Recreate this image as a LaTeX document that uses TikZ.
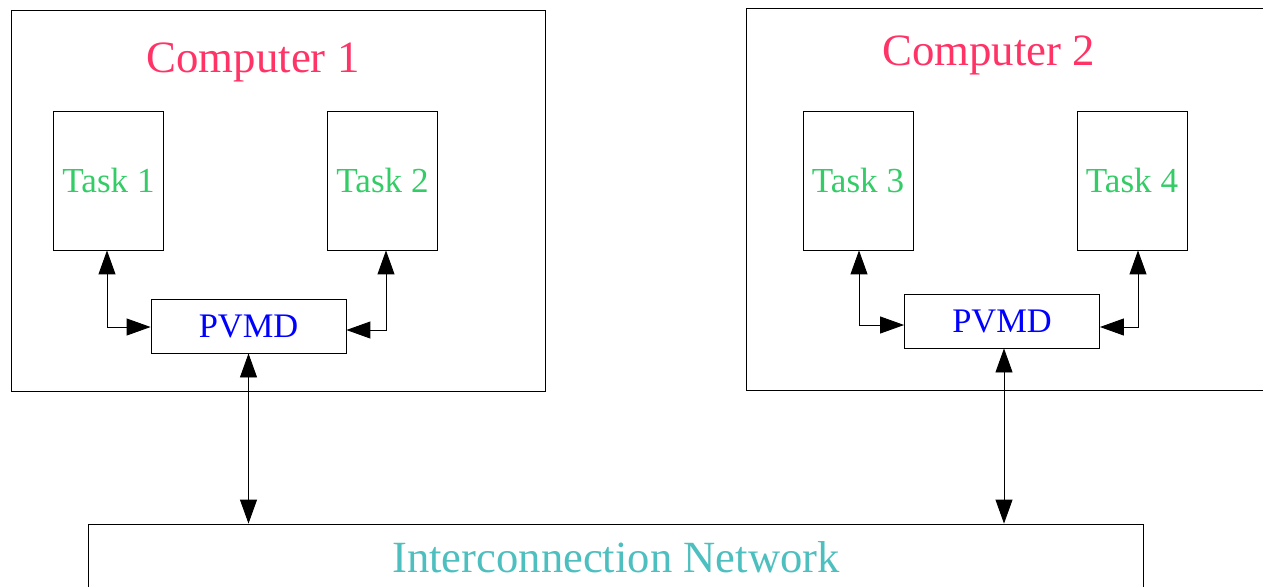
\documentclass[tikz,border=0pt]{standalone}
\usepackage{fontspec}
\setmainfont{Liberation Serif}
\usetikzlibrary{arrows.meta,positioning}
\definecolor{comp}{HTML}{FF3366}
\definecolor{task}{HTML}{33CC66}
\definecolor{daemon}{HTML}{0000FF}
\definecolor{netw}{HTML}{4DBFBF}
\tikzstyle{box}=[draw, line width=0.5pt, inner sep=0pt]
\tikzstyle{taskbox}=[box, minimum width=2.2cm, minimum height=2.78cm, text=task, font=\fontsize{20}{24}\selectfont]
\tikzstyle{pvmd}=[box, minimum width=3.9cm, minimum height=1.08cm, text=daemon, font=\fontsize{19.6}{23}\selectfont]
\tikzstyle{title}=[text=comp, font=\fontsize{25.5}{30}\selectfont]
\tikzstyle{link}=[line width=0.5pt, {Triangle[length=0.48cm,width=0.34cm]}-{Triangle[length=0.48cm,width=0.34cm]}]

\begin{document}
\begin{tikzpicture}[x=0.02cm, y=-0.02cm]
	\clip (0,0) rectangle (1263,586);
	% the two machines
	\node[box, minimum width=10.68cm, minimum height=7.62cm] (c1) at (278,200.5) {};
	\node[box, minimum width=10.68cm, minimum height=7.64cm] (c2) at (1013,199) {};
	\node[title] (c1t) at (253,62) {Computer 1};
	\node[title] (c2t) at (988.5,55) {Computer 2};
	% tasks and daemons
	\node[taskbox] (t1) at (108.5,180.5) {\raisebox{-0.07cm}{Task 1}};
	\node[taskbox] (t2) at (382.5,180.5) {\raisebox{-0.07cm}{Task 2}};
	\node[taskbox] (t3) at (858,180.5) {\raisebox{-0.07cm}{Task 3}};
	\node[taskbox] (t4) at (1132,180.5) {\raisebox{-0.07cm}{Task 4}};
	\node[pvmd] (p1) at (248.5,326) {PVMD};
	\node[pvmd] (p2) at (1002,321) {PVMD};
	% network
	\node[box, minimum width=21.12cm, minimum height=1.32cm, text=netw, font=\fontsize{25.4}{30}\selectfont] (net) at (616,557) {Interconnection Network};
	% links
	\draw[link] ([xshift=-0.03cm]t1.south) |- ([yshift=-0.02cm]p1.west);
	\draw[link] ([xshift=0.07cm]t2.south) |- ([yshift=-0.08cm]p1.east);
	\draw[link] ([xshift=0.02cm]t3.south) |- ([yshift=-0.08cm]p2.west);
	\draw[link] ([xshift=0.12cm]t4.south) |- ([yshift=-0.12cm]p2.east);
	\draw[link] (p1.south) -- (p1.south |- net.north);
	\draw[link] ([xshift=0.04cm]p2.south) -- ([xshift=0.04cm]p2.south |- net.north);
\end{tikzpicture}
\end{document}
